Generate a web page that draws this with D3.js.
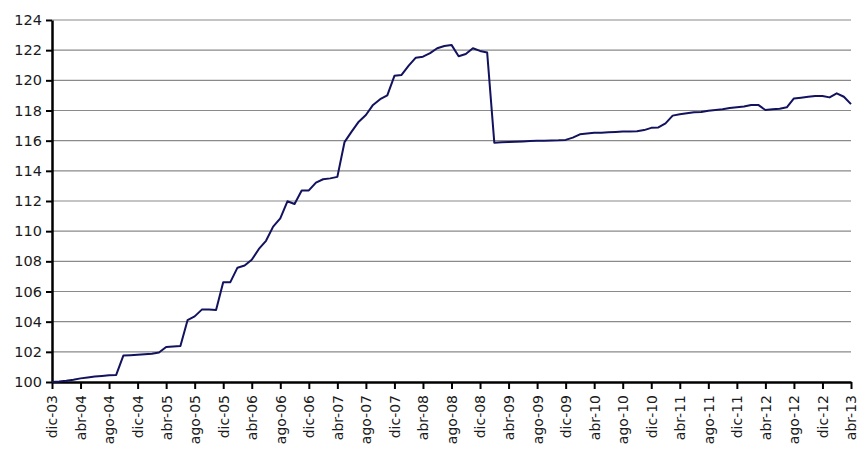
<!DOCTYPE html>
<html>
<head>
<meta charset="utf-8">
<script src="https://cdn.jsdelivr.net/npm/d3@7"></script>
<style>
  html, body { margin: 0; padding: 0; background: #ffffff; }
  svg { display: block; }
</style>
</head>
<body>
<svg id="chart" width="863" height="457"></svg>
<script>
// Monthly index values, dic-03 (index 0) to abr-13 (index 112)
const values = [
  100.00, 100.03, 100.08, 100.15, 100.24, 100.30, 100.36, 100.40, 100.44, 100.47,
  101.75, 101.77, 101.80, 101.84, 101.88, 101.95, 102.32, 102.36, 102.38, 104.10,
  104.35, 104.80, 104.80, 104.78, 106.62, 106.62, 107.58, 107.72, 108.10, 108.82,
  109.36, 110.30, 110.85, 111.98, 111.80, 112.70, 112.70, 113.22, 113.44, 113.50,
  113.60, 115.90, 116.60, 117.26, 117.70, 118.37, 118.75, 119.00, 120.30, 120.36,
  120.97, 121.50, 121.57, 121.80, 122.13, 122.28, 122.35, 121.60, 121.75, 122.13,
  121.95, 121.84, 115.87, 115.89, 115.91, 115.93, 115.95, 115.97, 115.99, 116.00,
  116.01, 116.02, 116.05, 116.20, 116.42, 116.47, 116.52, 116.53, 116.55, 116.57,
  116.60, 116.61, 116.62, 116.70, 116.85, 116.88, 117.15, 117.66, 117.75, 117.82,
  117.88, 117.90, 117.99, 118.03, 118.08, 118.17, 118.21, 118.26, 118.37, 118.37,
  118.03, 118.08, 118.12, 118.21, 118.80, 118.85, 118.91, 118.96, 118.96, 118.87,
  119.14, 118.91, 118.42
];

// Tick labels every 4 months
const tickLabels = [
  "dic-03","abr-04","ago-04","dic-04","abr-05","ago-05","dic-05","abr-06","ago-06",
  "dic-06","abr-07","ago-07","dic-07","abr-08","ago-08","dic-08","abr-09","ago-09",
  "dic-09","abr-10","ago-10","dic-10","abr-11","ago-11","dic-11","abr-12","ago-12",
  "dic-12","abr-13"
];
const tickStep = 4;
const yTicks = [100, 102, 104, 106, 108, 110, 112, 114, 116, 118, 120, 122, 124];

const svg = d3.select("#chart");
const mLeft = 52, mRight = 851, mTop = 20, mBottom = 382;

const x = d3.scaleLinear().domain([0, values.length - 1]).range([mLeft, mRight]);
const y = d3.scaleLinear().domain([100, 124]).range([mBottom, mTop]);

const font = "'DejaVu Sans', Verdana, sans-serif";

// Gridlines
svg.append("g")
  .selectAll("line")
  .data(yTicks.filter(d => d !== 100))
  .join("line")
  .attr("x1", mLeft).attr("x2", mRight)
  .attr("y1", d => y(d)).attr("y2", d => y(d))
  .attr("stroke", "#8a8a8a")
  .attr("stroke-width", 1.2);

// Y axis
const yAxis = svg.append("g")
  .attr("transform", `translate(${mLeft},0)`)
  .call(d3.axisLeft(y).tickValues(yTicks).tickSize(6).tickSizeOuter(0).tickPadding(4).tickFormat(d3.format("d")));
yAxis.select(".domain").attr("stroke", "#000").attr("stroke-width", 2.5);
yAxis.selectAll(".tick line").attr("stroke", "#000").attr("stroke-width", 2);
yAxis.selectAll("text")
  .attr("font-family", font).attr("font-size", "14.5px").attr("fill", "#1a1a1a");

// X axis
const xTickVals = tickLabels.map((_, i) => i * tickStep);
const xAxis = svg.append("g")
  .attr("transform", `translate(0,${mBottom})`)
  .call(d3.axisBottom(x).tickValues(xTickVals).tickSize(7).tickSizeOuter(0)
    .tickFormat((d, i) => tickLabels[i]));
xAxis.select(".domain").attr("stroke", "#000").attr("stroke-width", 2.5);
xAxis.selectAll(".tick line").attr("stroke", "#000").attr("stroke-width", 2);
xAxis.selectAll("text")
  .attr("font-family", font).attr("font-size", "14px").attr("fill", "#1a1a1a")
  .attr("text-anchor", "end")
  .attr("transform", "rotate(-90)")
  .attr("x", -13)
  .attr("y", 0)
  .attr("dy", "0.35em");

// Line
const line = d3.line()
  .x((d, i) => x(i))
  .y(d => y(d));

svg.append("path")
  .datum(values)
  .attr("d", line)
  .attr("fill", "none")
  .attr("stroke", "#12125e")
  .attr("stroke-width", 2)
  .attr("stroke-linejoin", "round");
</script>
</body>
</html>
